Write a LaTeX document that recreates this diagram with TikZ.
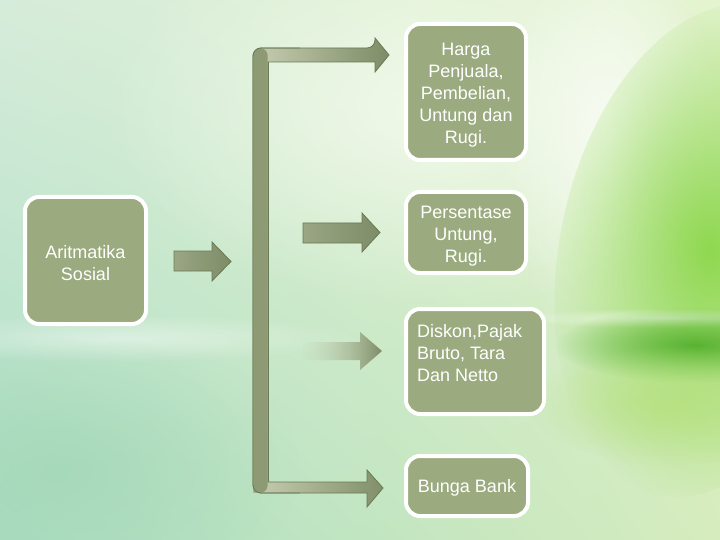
\documentclass[tikz,border=0pt]{standalone}
\usepackage{fontspec}
\setmainfont{Liberation Sans}
\usetikzlibrary{fadings,calc,shadings}
\definecolor{boxgreen}{RGB}{155,171,127}
\definecolor{arrowlight}{RGB}{200,205,178}
\definecolor{arrowdark}{RGB}{125,140,102}
\definecolor{arrowline}{RGB}{105,122,86}
\definecolor{barfill}{RGB}{141,154,116}
\definecolor{bgUL}{RGB}{214,236,218}
\definecolor{bgUR}{RGB}{228,244,206}
\definecolor{bgLL}{RGB}{172,222,196}
\definecolor{bgLR}{RGB}{214,236,190}
\definecolor{brightgreen}{RGB}{143,216,80}
\definecolor{deepgreen}{RGB}{80,174,42}
\definecolor{yellowgreen}{RGB}{181,224,122}
\definecolor{tealgreen}{RGB}{160,214,180}
\tikzfading[name=fuzzyblob, inner color=transparent!0, outer color=transparent!100]
\tikzfading[name=fadeleft, left color=transparent!95, right color=transparent!0]
\tikzset{
  box/.style={draw=white, line width=4pt, fill=boxgreen, rounded corners=14pt, inner sep=0pt},
  boxtext/.style={text=white, align=center, font=\fontsize{18}{22}\selectfont, inner sep=0pt},
  blockarrow/.style={draw=arrowline, line width=0.8pt, left color=arrowdark!60!arrowlight, right color=arrowdark},
  blob/.style={path fading=fuzzyblob},
}
\begin{document}
\begin{tikzpicture}[x=1pt,y=-1pt]
\useasboundingbox (0,0) rectangle (720,540);
% background
\begin{scope}
\clip (0,0) rectangle (720,540);
\shade[upper left=bgUL, upper right=bgUR, lower left=bgLL, lower right=bgLR] (0,0) rectangle (720,540);
\fill[white!70!bgUR, opacity=0.8, blob] (430,110) ellipse (330 and 200);
\fill[white, opacity=0.7, blob] (610,140) ellipse (110 and 220);
\fill[brightgreen, opacity=1, blob, rotate around={-12:(710,250)}] (710,250) ellipse (150 and 250);
\fill[white, opacity=0.6, blob] (665,318) ellipse (150 and 10);
\fill[deepgreen, opacity=0.9, blob] (695,345) ellipse (140 and 38);
\fill[yellowgreen, opacity=0.7, blob] (670,405) ellipse (140 and 60);
\fill[tealgreen, opacity=0.7, blob] (60,470) ellipse (240 and 150);
\fill[white, opacity=0.45, blob] (120,338) ellipse (240 and 24);
\end{scope}

% boxes
\node[box, minimum width=121pt, minimum height=127pt] (src) at (85.5,260.5) {};
\node[boxtext] (srct) at (85.5,263) {Aritmatika\\Sosial};
\node[box, minimum width=120pt, minimum height=136pt] (b1) at (466,92) {};
\node[boxtext] (b1t) at (466,95) {Harga\\Penjuala,\\Pembelian,\\Untung dan\\Rugi.};
\node[box, minimum width=120pt, minimum height=81pt] (b2) at (466,232.5) {};
\node[boxtext] (b2t) at (466,236) {Persentase\\Untung,\\Rugi.};
\node[box, minimum width=138pt, minimum height=105pt] (b3) at (475,361.5) {};
\node[boxtext, anchor=north west, align=left] (b3t) at (417,324) {Diskon,Pajak\\Bruto, Tara\\Dan Netto};
\node[box, minimum width=122pt, minimum height=60pt] (b4) at (467,486) {};
\node[boxtext] (b4t) at (467,488) {Bunga Bank};

% left block arrow
\path[blockarrow] (174,251) -- (212,251) -- (212,242) -- (231,261.5) -- (212,281) -- (212,271) -- (174,271) -- cycle;

% bracket
\path[left color=arrowlight, right color=arrowdark, draw=arrowline, line width=0.8pt, rounded corners=8pt]
  (253,48) -- (375,48) [sharp corners] -- (375,38) -- (389,55) -- (375,72) -- (375,62) -- (268,62)
  -- (268,482) -- (367,482) -- (367,470) -- (383,488) -- (367,507) -- (367,493) [rounded corners=8pt] -- (253,493) -- cycle;
\fill[barfill, rounded corners=7pt] (253.4,48.4) -- (267.6,48.4) -- (267.6,492.6) [sharp corners] -- (253.4,492.6) [rounded corners=7pt] -- cycle;
\draw[arrowline, line width=0.8pt] (268,62) -- (268,482);
\draw[arrowline, line width=0.8pt, rounded corners=8pt] (300,48) -- (253,48) -- (253,493) -- (300,493);

% middle block arrows
\path[blockarrow] (303,223) -- (362,223) -- (362,213) -- (380,232.5) -- (362,252) -- (362,243) -- (303,243) -- cycle;
\path[left color=arrowlight, right color=arrowdark, path fading=fadeleft] (303,342) -- (360,342) -- (360,332) -- (382,351) -- (360,370) -- (360,360) -- (303,360) -- cycle;
\end{tikzpicture}
\end{document}
